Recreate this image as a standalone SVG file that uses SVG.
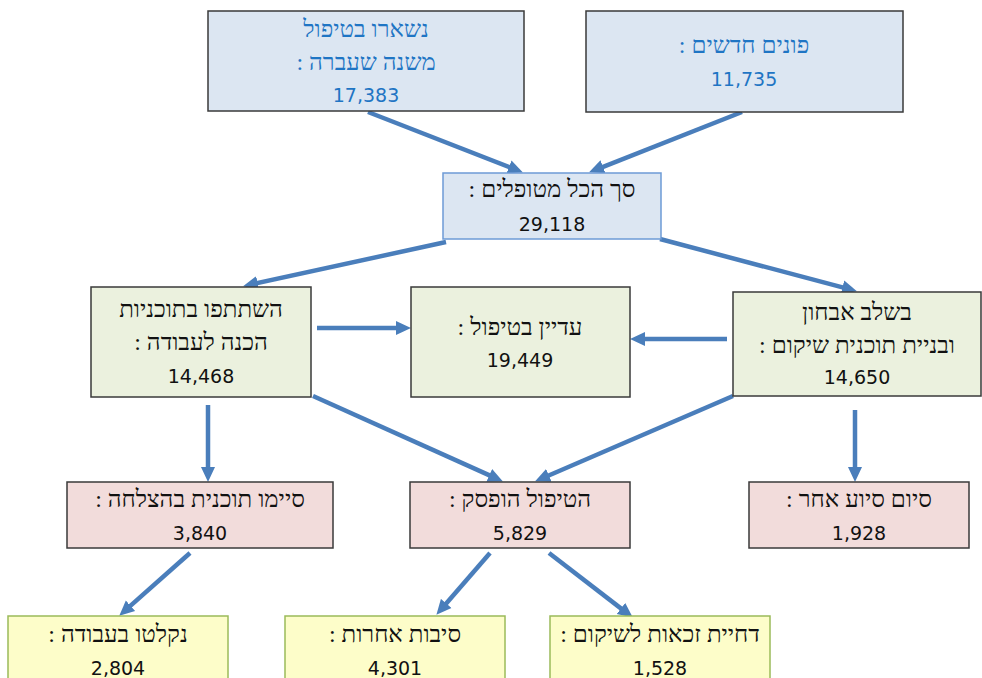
<svg xmlns="http://www.w3.org/2000/svg" width="982" height="678" viewBox="0 0 982 678">
<defs>
<style>
.t{font-family:"DejaVu Sans","Liberation Sans",sans-serif;font-size:19px;text-anchor:middle;fill:#111;direction:rtl;unicode-bidi:embed}
.h{font-family:"Liberation Serif","DejaVu Serif",serif;font-size:24px}
.b{fill:#1f75c4}
.blue{fill:#dce6f2;stroke:#3a3a3a;stroke-width:1.5}
.blue2{fill:#dce6f2;stroke:#6d9bd6;stroke-width:1.5}
.green{fill:#ebf1de;stroke:#3a3a3a;stroke-width:1.5}
.pink{fill:#f2dcdb;stroke:#3a3a3a;stroke-width:1.5}
.yel{fill:#fdfdc9;stroke:#9bbb59;stroke-width:1.5}
.c line{stroke:#4a7ebb;stroke-width:4.5;marker-end:url(#ah)}
</style>
<marker id="ah" markerUnits="userSpaceOnUse" markerWidth="16" markerHeight="16" refX="4" refY="8" orient="auto" viewBox="0 0 16 16">
<path d="M0,1 L15,8 L0,15 z" fill="#4a7ebb"/>
</marker>
</defs>
<rect width="982" height="678" fill="#fff"/>
<g class="c" id="connectors">
<line x1="368" y1="112" x2="512.7" y2="168.4"/>
<line x1="742" y1="112" x2="599.3" y2="168.3"/>
<line x1="446" y1="242" x2="253.8" y2="283.9"/>
<line x1="660" y1="239" x2="846.3" y2="288.4"/>
<line x1="317" y1="328" x2="400" y2="328"/>
<line x1="727" y1="339" x2="641" y2="339"/>
<line x1="208" y1="405" x2="208" y2="471"/>
<line x1="313" y1="396" x2="492.9" y2="476.9"/>
<line x1="733" y1="396" x2="545.2" y2="477"/>
<line x1="855" y1="410" x2="855" y2="471"/>
<line x1="190" y1="553" x2="127.5" y2="608.4"/>
<line x1="490" y1="553" x2="443.6" y2="606.5"/>
<line x1="549" y1="553" x2="624.1" y2="610.9"/>
</g>
<g id="n1"><rect class="blue" x="208" y="11" width="316" height="100"/>
<text class="t h b" x="366" y="37">נשארו בטיפול</text>
<text class="t h b" x="366" y="70">משנה שעברה :</text>
<text class="t b" x="366" y="102">17,383</text></g>
<g id="n2"><rect class="blue" x="586" y="11" width="317" height="101"/>
<text class="t h b" x="744" y="53">פונים חדשים :</text>
<text class="t b" x="744" y="86">11,735</text></g>
<g id="n3"><rect class="blue2" x="443" y="173" width="218" height="66"/>
<text class="t h" x="552" y="197">סך הכל מטופלים :</text>
<text class="t" x="552" y="231">29,118</text></g>
<g id="n4"><rect class="green" x="91" y="287" width="220" height="110"/>
<text class="t h" x="201" y="317">השתתפו בתוכניות</text>
<text class="t h" x="201" y="350">הכנה לעבודה :</text>
<text class="t" x="201" y="383">14,468</text></g>
<g id="n5"><rect class="green" x="411" y="287" width="219" height="110"/>
<text class="t h" x="520" y="335">עדיין בטיפול :</text>
<text class="t" x="520" y="367">19,449</text></g>
<g id="n6"><rect class="green" x="733" y="292" width="248" height="104"/>
<text class="t h" x="857" y="320">בשלב אבחון</text>
<text class="t h" x="857" y="353">ובניית תוכנית שיקום :</text>
<text class="t" x="857" y="384">14,650</text></g>
<g id="n7"><rect class="pink" x="67" y="482" width="266" height="66"/>
<text class="t h" x="200" y="507">סיימו תוכנית בהצלחה :</text>
<text class="t" x="200" y="540">3,840</text></g>
<g id="n8"><rect class="pink" x="410" y="482" width="220" height="66"/>
<text class="t h" x="520" y="507">הטיפול הופסק :</text>
<text class="t" x="520" y="540">5,829</text></g>
<g id="n9"><rect class="pink" x="749" y="482" width="220" height="66"/>
<text class="t h" x="859" y="507">סיום סיוע אחר :</text>
<text class="t" x="859" y="540">1,928</text></g>
<g id="n10"><rect class="yel" x="8" y="616" width="220" height="72"/>
<text class="t h" x="118" y="642">נקלטו בעבודה :</text>
<text class="t" x="118" y="675">2,804</text></g>
<g id="n11"><rect class="yel" x="285" y="616" width="220" height="72"/>
<text class="t h" x="395" y="642">סיבות אחרות :</text>
<text class="t" x="395" y="675">4,301</text></g>
<g id="n12"><rect class="yel" x="550" y="616" width="220" height="72"/>
<text class="t h" x="660" y="642">דחיית זכאות לשיקום :</text>
<text class="t" x="660" y="675">1,528</text></g>
</svg>
